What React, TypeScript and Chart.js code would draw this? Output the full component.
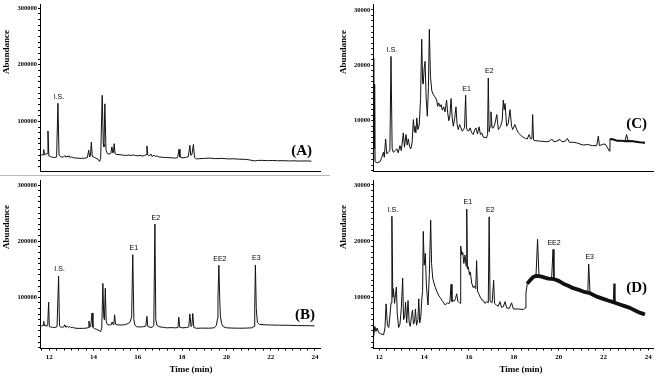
import React, { useEffect, useRef } from 'react';
import { Chart, registerables } from 'chart.js';

Chart.register(...registerables);

type Pt = [number, number];
type Lab = { text: string; t: number; v: number };

// ---- tick labels ----
const LEFT_Y_TICKS = [100000, 200000, 300000];
const RIGHT_Y_TICKS = [10000, 20000, 30000];
const X_TICKS = [12, 14, 16, 18, 20, 22, 24];

// ---- (A) ----
const A_TRACE: Pt[] = [
  [11.58, 40000], [11.65, 41000], [11.72, 40500], [11.75, 50000], [11.78, 41500], [11.85, 42000],
  [11.91, 43000], [11.94, 83000], [11.98, 39000], [12.05, 37700], [12.15, 36500], [12.25, 36000],
  [12.33, 37000], [12.39, 132000], [12.44, 40000], [12.5, 38000], [12.58, 36500], [12.64, 37000],
  [12.7, 39500], [12.75, 36500], [12.8, 38500], [12.85, 37000], [12.9, 39000], [12.95, 35500],
  [13.0, 37000], [13.1, 35500], [13.25, 35000], [13.45, 34500], [13.6, 34800], [13.72, 36000],
  [13.78, 49000], [13.82, 37000], [13.86, 40000], [13.9, 63400], [13.94, 38000], [14.0, 37000],
  [14.1, 35000], [14.2, 33000], [14.27, 29000], [14.32, 34000], [14.39, 146000], [14.44, 60000],
  [14.47, 55000], [14.51, 131000], [14.56, 50000], [14.62, 43000], [14.7, 42000], [14.78, 43500],
  [14.83, 55000], [14.87, 44000], [14.9, 45000], [14.93, 60500], [14.97, 43000], [15.05, 41500],
  [15.2, 41000], [15.35, 40000], [15.5, 39800], [15.6, 40500], [15.7, 39500], [15.8, 40500],
  [15.9, 39500], [16.0, 39000], [16.1, 40000], [16.2, 38500], [16.3, 39500], [16.37, 41000],
  [16.41, 56500], [16.45, 41000], [16.5, 39000], [16.6, 42000], [16.65, 37500], [16.72, 40500],
  [16.78, 38000], [16.86, 39000], [16.95, 37000], [17.1, 36500], [17.3, 36000], [17.5, 35500],
  [17.7, 35000], [17.8, 36000], [17.86, 50700], [17.9, 37000], [18.0, 35500], [18.15, 36000],
  [18.28, 37500], [18.35, 57600], [18.39, 40000], [18.44, 41000], [18.51, 59000], [18.56, 36000],
  [18.65, 33600], [18.8, 34000], [19.0, 34500], [19.25, 35000], [19.5, 34000], [19.8, 34500],
  [20.1, 33500], [20.3, 33800], [20.6, 33000], [20.85, 32800], [21.05, 31800], [21.2, 30500],
  [21.27, 30000], [21.4, 30800], [21.6, 31000], [21.85, 30500], [22.1, 30800], [22.3, 30300],
  [22.55, 30500], [22.8, 30000], [23.05, 30200], [23.3, 29800], [23.6, 30000], [23.84, 29600],
];
const A_LABELS: Lab[] = [{ text: 'I.S.', t: 12.39, v: 132000 }];

// ---- (B) ----
const B_TRACE: Pt[] = [
  [11.58, 50000], [11.65, 49000], [11.72, 50000], [11.75, 57000], [11.78, 49000], [11.84, 50500],
  [11.88, 48000], [11.93, 52000], [11.97, 91400], [12.0, 48000], [12.05, 47000], [12.15, 46500],
  [12.25, 46000], [12.35, 47500], [12.42, 137800], [12.46, 49000], [12.52, 47000], [12.6, 46500],
  [12.66, 47500], [12.7, 51000], [12.74, 46500], [12.8, 48500], [12.86, 46000], [12.92, 48000],
  [12.98, 45500], [13.05, 46500], [13.15, 45000], [13.3, 44500], [13.5, 44500], [13.7, 45000],
  [13.75, 46000], [13.79, 57600], [13.83, 46500], [13.87, 48000], [13.93, 72000], [13.97, 46500],
  [14.05, 44000], [14.15, 42500], [14.25, 40500], [14.32, 38700], [14.37, 45000], [14.42, 124600],
  [14.46, 65000], [14.49, 60000], [14.53, 116000], [14.57, 56000], [14.63, 51000], [14.72, 50500],
  [14.8, 51000], [14.84, 56000], [14.88, 51500], [14.92, 53000], [14.95, 68600], [14.99, 52000],
  [15.1, 50500], [15.25, 50500], [15.4, 51000], [15.55, 53000], [15.65, 56000], [15.72, 65000],
  [15.77, 176000], [15.82, 60000], [15.87, 50000], [15.95, 47300], [16.1, 47000], [16.25, 47500],
  [16.36, 48500], [16.41, 66000], [16.45, 48000], [16.55, 46500], [16.65, 46500], [16.72, 50000],
  [16.77, 230500], [16.81, 60000], [16.86, 50000], [16.92, 48500], [17.0, 47000], [17.15, 46500],
  [17.3, 45500], [17.5, 45800], [17.7, 45500], [17.81, 46000], [17.85, 64500], [17.89, 46500],
  [18.0, 45500], [18.2, 46000], [18.3, 47000], [18.35, 70300], [18.4, 48000], [18.44, 49000],
  [18.48, 71000], [18.53, 46000], [18.65, 44600], [18.9, 45000], [19.2, 44800], [19.45, 45500],
  [19.55, 50000], [19.6, 62000], [19.62, 100000], [19.66, 157000], [19.7, 95000], [19.73, 67000],
  [19.78, 53000], [19.86, 47500], [20.0, 45500], [20.3, 45000], [20.6, 44800], [20.9, 45000],
  [21.15, 45500], [21.25, 48000], [21.28, 80000], [21.31, 157500], [21.35, 80000], [21.4, 55000],
  [21.5, 51500], [21.7, 51000], [22.0, 50500], [22.4, 50200], [22.8, 50000], [23.2, 49500],
  [23.6, 49300], [23.98, 49000],
];
const B_LABELS: Lab[] = [
  { text: 'I.S.', t: 12.42, v: 137800 },
  { text: 'E1', t: 15.77, v: 176000 },
  { text: 'E2', t: 16.77, v: 230500 },
  { text: 'EE2', t: 19.66, v: 157000 },
  { text: 'E3', t: 21.31, v: 157500 },
];

// ---- (C) ----
const C_TRACE: Pt[] = [
  [11.74, 3000], [11.75, 21300], [11.77, 5000], [11.79, 16600], [11.81, 2600], [11.9, 2400],
  [12.03, 2600], [12.1, 3300], [12.18, 4300], [12.22, 3400], [12.28, 6700], [12.33, 4000],
  [12.4, 4300], [12.47, 4600], [12.52, 21600], [12.57, 5000], [12.62, 4300], [12.7, 4600],
  [12.78, 4900], [12.84, 4200], [12.92, 5500], [12.98, 4600], [13.07, 7800], [13.12, 5200],
  [13.19, 7500], [13.24, 5600], [13.29, 6700], [13.35, 5300], [13.4, 4900], [13.46, 6000],
  [13.52, 10200], [13.56, 8000], [13.59, 9000], [13.63, 7800], [13.67, 10500], [13.72, 8400],
  [13.78, 9200], [13.84, 14000], [13.89, 24700], [13.93, 17000], [13.96, 16600], [14.0, 19500],
  [14.04, 20700], [14.09, 14000], [14.14, 10800], [14.19, 16000], [14.23, 26500], [14.28, 18000],
  [14.34, 15400], [14.4, 14800], [14.48, 14300], [14.56, 13700], [14.6, 12600], [14.65, 13200],
  [14.71, 12500], [14.76, 12900], [14.81, 11900], [14.87, 12500], [14.93, 11600], [15.0, 13700],
  [15.05, 11400], [15.1, 10000], [15.15, 11000], [15.2, 14000], [15.25, 10500], [15.3, 9000],
  [15.36, 10400], [15.42, 12500], [15.47, 9300], [15.52, 8400], [15.58, 9300], [15.63, 8800],
  [15.7, 8100], [15.75, 8400], [15.8, 8700], [15.85, 14600], [15.89, 8700], [15.93, 8200],
  [16.0, 8200], [16.05, 8700], [16.12, 7800], [16.19, 7500], [16.25, 8300], [16.31, 8700],
  [16.38, 7600], [16.45, 8900], [16.51, 7500], [16.57, 7800], [16.64, 7000], [16.71, 7000],
  [16.78, 6900], [16.83, 7500], [16.86, 17700], [16.9, 8000], [16.94, 9000], [16.98, 11600],
  [17.03, 8700], [17.09, 8700], [17.16, 9500], [17.24, 11100], [17.31, 8400], [17.41, 9000],
  [17.48, 10000], [17.53, 13700], [17.57, 12000], [17.61, 13100], [17.68, 9000], [17.75, 9500],
  [17.83, 12000], [17.9, 9000], [17.95, 8400], [18.05, 9300], [18.12, 8500], [18.2, 7800],
  [18.3, 7400], [18.42, 7000], [18.52, 6800], [18.6, 6700], [18.68, 7500], [18.75, 6700],
  [18.81, 6800], [18.84, 11100], [18.88, 6500], [18.95, 6400], [19.2, 6300], [19.47, 6200],
  [19.6, 6300], [19.69, 6700], [19.78, 6200], [19.9, 6300], [20.06, 6600], [20.15, 6200],
  [20.3, 6300], [20.39, 6800], [20.48, 6100], [20.65, 6100], [20.8, 6000], [20.95, 5800],
  [21.1, 5600], [21.3, 5700], [21.5, 5500], [21.7, 5500], [21.77, 7200], [21.82, 5500],
  [21.95, 5700], [22.07, 5800], [22.17, 5200], [22.26, 4500], [22.29, 6700], [22.45, 6600],
  [22.59, 6400], [22.8, 6400], [22.96, 6300], [23.03, 7500], [23.1, 6400], [23.3, 6300],
  [23.6, 6100], [23.85, 6000],
];
const C_BAND: Pt[] = [
  [22.29, 6700], [22.45, 6600], [22.59, 6400], [22.8, 6400], [22.96, 6300], [23.1, 6350],
  [23.3, 6300], [23.6, 6100], [23.85, 6000],
];
const C_LABELS: Lab[] = [
  { text: 'I.S.', t: 12.52, v: 21600 },
  { text: 'E1', t: 15.85, v: 14600 },
  { text: 'E2', t: 16.86, v: 17700 },
];

// ---- (D) ----
const D_TRACE: Pt[] = [
  [11.75, 3000], [11.8, 4800], [11.85, 3900], [11.9, 4500], [11.97, 3700], [12.05, 3500],
  [12.19, 3300], [12.25, 4500], [12.3, 8800], [12.36, 5000], [12.42, 4600], [12.48, 7000],
  [12.52, 9000], [12.56, 24400], [12.6, 10000], [12.63, 11500], [12.68, 8900], [12.72, 10500],
  [12.76, 11800], [12.8, 7000], [12.86, 4600], [12.92, 5200], [12.98, 8000], [13.04, 13400],
  [13.08, 6000], [13.13, 6500], [13.17, 9100], [13.22, 5400], [13.28, 9400], [13.33, 5500],
  [13.38, 4800], [13.43, 6500], [13.48, 7700], [13.52, 5200], [13.57, 5500], [13.61, 7900],
  [13.66, 5000], [13.72, 6000], [13.76, 9700], [13.8, 5400], [13.85, 6500], [13.9, 10000],
  [13.93, 11000], [13.96, 21700], [14.0, 15700], [14.05, 17800], [14.1, 12000], [14.17, 8600],
  [14.23, 14000], [14.29, 23700], [14.33, 16000], [14.38, 13400], [14.44, 12500], [14.5, 11700],
  [14.57, 11000], [14.65, 10300], [14.72, 9900], [14.8, 9400], [14.87, 9000], [14.94, 8600],
  [15.0, 8900], [15.05, 9000], [15.1, 8800], [15.15, 9300], [15.2, 12300], [15.24, 9200],
  [15.3, 9400], [15.35, 9300], [15.4, 9800], [15.45, 10600], [15.5, 9300], [15.55, 9100],
  [15.6, 8900], [15.63, 19100], [15.68, 17500], [15.72, 18000], [15.77, 16000], [15.82, 17500],
  [15.87, 15500], [15.9, 25700], [15.93, 15000], [15.97, 15400], [16.02, 14000], [16.06, 14500],
  [16.12, 12500], [16.19, 11700], [16.24, 12000], [16.3, 11500], [16.34, 16500], [16.38, 11100],
  [16.45, 10500], [16.5, 10000], [16.58, 9500], [16.64, 9400], [16.71, 8900], [16.8, 9200],
  [16.86, 9000], [16.9, 24300], [16.94, 9300], [17.03, 9000], [17.1, 13000], [17.14, 8900],
  [17.22, 8600], [17.31, 8400], [17.38, 9200], [17.45, 8200], [17.53, 8300], [17.61, 9200],
  [17.68, 8100], [17.8, 8000], [17.9, 9000], [17.98, 7900], [18.2, 7900], [18.42, 7800],
  [18.5, 8100], [18.54, 10700], [18.6, 12400], [18.72, 13000], [18.87, 13600], [18.99, 13900],
  [19.06, 20300], [19.12, 13900], [19.32, 13600], [19.54, 13300], [19.69, 13600], [19.75, 18500],
  [19.79, 13300], [20.0, 12900], [20.21, 12400], [20.45, 12000], [20.65, 11600], [20.9, 11300],
  [21.1, 11000], [21.3, 10800], [21.34, 15900], [21.4, 10700], [21.7, 10100], [21.99, 9700],
  [22.2, 9400], [22.37, 9200], [22.44, 9300], [22.47, 12400], [22.51, 9000], [22.73, 8700],
  [22.95, 8400], [23.18, 8100], [23.48, 7500], [23.65, 7200], [23.85, 6900],
];
const D_BAND: Pt[] = [
  [18.6, 12400], [18.72, 13000], [18.87, 13600], [19.0, 13800], [19.2, 13700],
  [19.54, 13300], [19.8, 13200], [20.0, 12900], [20.21, 12400], [20.45, 12000], [20.65, 11600],
  [20.9, 11300], [21.1, 11000], [21.4, 10700], [21.7, 10100], [21.99, 9700], [22.2, 9400],
  [22.37, 9200], [22.51, 9000], [22.73, 8700], [22.95, 8400], [23.18, 8100], [23.48, 7500],
  [23.65, 7200], [23.85, 6900],
];
const D_LABELS: Lab[] = [
  { text: 'I.S.', t: 12.56, v: 24400 },
  { text: 'E1', t: 15.9, v: 25700 },
  { text: 'E2', t: 16.9, v: 24300 },
  { text: 'EE2', t: 19.75, v: 18500 },
  { text: 'E3', t: 21.34, v: 15900 },
];

const SERIF = '"Liberation Serif", "Times New Roman", serif';
const SANS = '"Liberation Sans", Arial, sans-serif';
const INK = '#111';

interface Panel {
  left: number; top: number; w: number; h: number;
  pad: { left: number; top: number; right: number; bottom: number };
  yWidth: number; xHeight: number;
  xMin: number; xMax: number; yMin: number; yMax: number;
  yMajor: number[]; yMinorStep: number; showX: boolean;
  trace: Pt[]; band?: Pt[]; bandWidth?: number; labels: Lab[];
  letter: string; letterPos: [number, number];
  yTitlePos: [number, number]; xTitlePos?: [number, number]; bottomRule?: boolean;
}

const PANELS: Panel[] = [
  {
    left: 0, top: 0, w: 330, h: 176, pad: { left: 0, top: 2, right: 9.3, bottom: 3 },
    yWidth: 40, xHeight: 0, xMin: 11.58, xMax: 24.26, yMin: 12000, yMax: 306000,
    yMajor: LEFT_Y_TICKS, yMinorStep: 10000, showX: false, trace: A_TRACE, labels: A_LABELS,
    letter: '(A)', letterPos: [312, 155], yTitlePos: [6.7, 52], bottomRule: true,
  },
  {
    left: 0, top: 176, w: 330, h: 203, pad: { left: 0, top: 1, right: 9.3, bottom: 0 },
    yWidth: 40, xHeight: 31, xMin: 11.58, xMax: 24.26, yMin: 9500, yMax: 307500,
    yMajor: LEFT_Y_TICKS, yMinorStep: 10000, showX: true, trace: B_TRACE, labels: B_LABELS,
    letter: '(B)', letterPos: [315, 142.5], yTitlePos: [6.7, 51], xTitlePos: [191, 194],
  },
  {
    left: 330, top: 0, w: 327, h: 176, pad: { left: 0, top: 2, right: 4, bottom: 3 },
    yWidth: 43.3, xHeight: 0, xMin: 11.73, xMax: 24.21, yMin: 900, yMax: 30900,
    yMajor: RIGHT_Y_TICKS, yMinorStep: 1000, showX: false, trace: C_TRACE, band: C_BAND, bandWidth: 2,
    labels: C_LABELS, letter: '(C)', letterPos: [317, 128], yTitlePos: [13.5, 52],
  },
  {
    left: 330, top: 176, w: 327, h: 203, pad: { left: 0, top: 1, right: 4, bottom: 0 },
    yWidth: 43.3, xHeight: 31, xMin: 11.73, xMax: 24.21, yMin: 950, yMax: 30700,
    yMajor: RIGHT_Y_TICKS, yMinorStep: 1000, showX: true, trace: D_TRACE, band: D_BAND, bandWidth: 3.8,
    labels: D_LABELS, letter: '(D)', letterPos: [317, 116], yTitlePos: [13.5, 51], xTitlePos: [191, 194],
  },
];

function makeOverlay(p: Panel) {
  return {
    id: 'overlay',
    afterDatasetsDraw(chart: any) {
      const ctx: CanvasRenderingContext2D = chart.ctx;
      const xs = chart.scales.x;
      const ys = chart.scales.y;
      ctx.save();
      ctx.fillStyle = '#000';
      ctx.font = `7px ${SANS}`;
      ctx.textAlign = 'center';
      ctx.textBaseline = 'bottom';
      for (const l of p.labels) {
        ctx.fillText(l.text, xs.getPixelForValue(l.t) + 1, ys.getPixelForValue(l.v) - 3);
      }
      ctx.font = `bold 15px ${SERIF}`;
      ctx.textAlign = 'right';
      ctx.textBaseline = 'alphabetic';
      ctx.fillText(p.letter, p.letterPos[0], p.letterPos[1]);
      ctx.save();
      ctx.translate(p.yTitlePos[0], p.yTitlePos[1]);
      ctx.rotate(-Math.PI / 2);
      ctx.font = `bold 9px ${SERIF}`;
      ctx.textAlign = 'center';
      ctx.textBaseline = 'middle';
      ctx.fillText('Abundance', 0, 0);
      ctx.restore();
      if (p.xTitlePos) {
        ctx.font = `bold 9px ${SERIF}`;
        ctx.textAlign = 'center';
        ctx.textBaseline = 'middle';
        ctx.fillText('Time (min)', p.xTitlePos[0], p.xTitlePos[1]);
      }
      if (p.bottomRule) {
        ctx.fillStyle = '#b8b8b8';
        ctx.fillRect(0, p.h - 1, p.w, 1);
      }
      ctx.restore();
    },
  };
}

function PanelChart({ p }: { p: Panel }) {
  const ref = useRef<HTMLCanvasElement | null>(null);
  useEffect(() => {
    if (!ref.current) return;
    const yTicks: { value: number }[] = [];
    for (let k = Math.ceil(p.yMin / p.yMinorStep); k * p.yMinorStep <= p.yMax; k++) {
      yTicks.push({ value: k * p.yMinorStep });
    }
    const xTicks: { value: number }[] = [];
    if (p.showX) {
      for (let k = Math.ceil(p.xMin * 3); k <= Math.floor(p.xMax * 3); k++) {
        xTicks.push({ value: k / 3 });
      }
    }
    const datasets: any[] = [
      {
        data: p.trace.map(([x, y]) => ({ x, y })),
        borderColor: INK, borderWidth: 1, pointRadius: 0, tension: 0, fill: false, order: 1,
      },
    ];
    if (p.band) {
      datasets.push({
        data: p.band.map(([x, y]) => ({ x, y })),
        borderColor: INK, borderWidth: p.bandWidth, pointRadius: 0, tension: 0, fill: false, order: 2,
        borderJoinStyle: 'round', borderCapStyle: 'butt',
      });
    }
    const chart = new Chart(ref.current, {
      type: 'line',
      data: { datasets },
      options: {
        animation: false,
        responsive: false,
        devicePixelRatio: 1,
        layout: { padding: p.pad },
        plugins: { legend: { display: false }, tooltip: { enabled: false } },
        events: [],
        scales: {
          x: {
            type: 'linear',
            min: p.xMin,
            max: p.xMax,
            afterBuildTicks: (s: any) => { s.ticks = xTicks; },
            afterFit: (s: any) => { s.height = p.xHeight; },
            ticks: {
              display: p.showX,
              autoSkip: false,
              maxRotation: 0,
              padding: 2,
              color: '#000',
              font: { family: SERIF, size: 7, weight: 'bold' },
              callback: (v: any) => {
                const hit = X_TICKS.find((t) => Math.abs(t - Number(v)) < 1e-6);
                return hit === undefined ? '' : String(hit);
              },
            },
            grid: { display: p.showX, drawOnChartArea: false, tickLength: 2.5, color: '#000' },
            border: { display: true, color: '#000', width: 1 },
          },
          y: {
            type: 'linear',
            min: p.yMin,
            max: p.yMax,
            afterBuildTicks: (s: any) => { s.ticks = yTicks; },
            afterFit: (s: any) => { s.width = p.yWidth; },
            ticks: {
              autoSkip: false,
              padding: 1,
              color: '#000',
              font: { family: SERIF, size: 6.5, weight: 'bold' },
              callback: (v: any) => {
                const hit = p.yMajor.find((t) => Math.abs(t - Number(v)) < 1e-6);
                return hit === undefined ? '' : String(hit);
              },
            },
            grid: { drawOnChartArea: false, tickLength: 2, color: '#000' },
            border: { display: true, color: '#000', width: 1 },
          },
        },
      } as any,
      plugins: [makeOverlay(p)],
    });
    return () => chart.destroy();
  }, [p]);
  return (
    <canvas
      ref={ref}
      width={p.w}
      height={p.h}
      style={{ position: 'absolute', left: p.left, top: p.top, width: p.w, height: p.h }}
    />
  );
}

export default function App() {
  return (
    <div
      style={{
        position: 'absolute', left: 0, top: 0, width: 657, height: 379,
        background: '#fff', overflow: 'hidden',
      }}
    >
      {PANELS.map((p, i) => (
        <PanelChart key={i} p={p} />
      ))}
    </div>
  );
}
